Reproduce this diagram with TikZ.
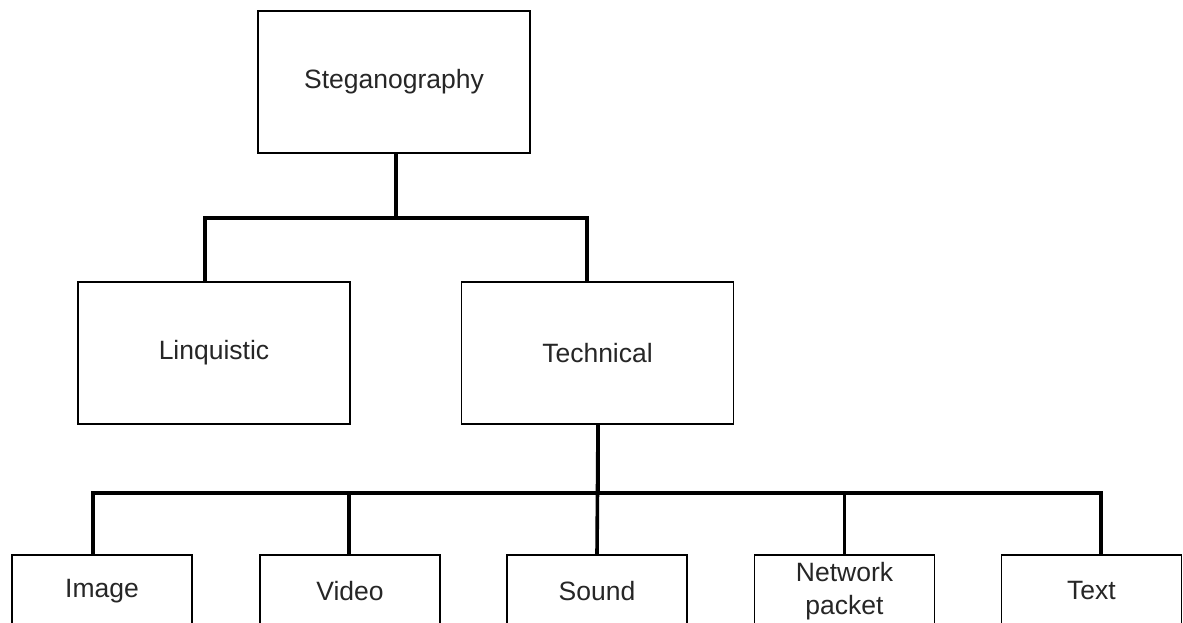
\documentclass[tikz,border=0pt]{standalone}
\usepackage{fontspec}
\setmainfont{Liberation Sans}
\begin{document}
\begin{tikzpicture}[x=1pt,y=-1pt,
  box/.style={draw=black,line width=1.8pt,fill=white,inner sep=0pt,
    text=black!85,font=\fontsize{26.5}{33}\selectfont,align=center},
  bigbox/.style={box,minimum width=272pt,minimum height=142pt},
  leafbox/.style={box,minimum width=180pt,minimum height=72pt},
  conn/.style={draw=black,line width=3.6pt}]
  \clip (0,0) rectangle (1183,623);
  \fill[white] (0,0) rectangle (1183,623);

  % top level
  \node[bigbox] (steg) at (394,82) {Steganography};
  % second level
  \node[bigbox] (ling) at (214,353) {Linquistic};
  \node[bigbox] (tech) at (597.5,353) {Technical};
  % leaves
  \node[leafbox] (img)  at (102,591) {Image};
  \node[leafbox] (vid)  at (350,591) {Video};
  \node[leafbox] (snd)  at (597,591) {Sound};
  \node[leafbox] (net)  at (844.5,591) {Network\\packet};
  \node[leafbox] (txt)  at (1091.5,591) {Text};

  % connectors
  \draw[conn] ([xshift=2pt]steg.south) -- ++(0,64) -| ([xshift=-9pt]ling.north);
  \draw[conn] ([xshift=2pt]steg.south) -- ++(0,64) -| ([xshift=-10.5pt]tech.north);

  \coordinate (bus) at ([xshift=0.5pt]tech.south);
  \draw[conn] (bus) -- ++(0,68) -| ([xshift=-9pt]img.north);
  \draw[conn] (bus) -- ++(0,68) -| ([xshift=-1pt]vid.north);
  \draw[conn] (bus) -- (snd.north);
  \draw[conn] (bus) -- ++(0,68) -| (net.north);
  \draw[conn] (bus) -- ++(0,68) -| ([xshift=9.5pt]txt.north);
\end{tikzpicture}
\end{document}
